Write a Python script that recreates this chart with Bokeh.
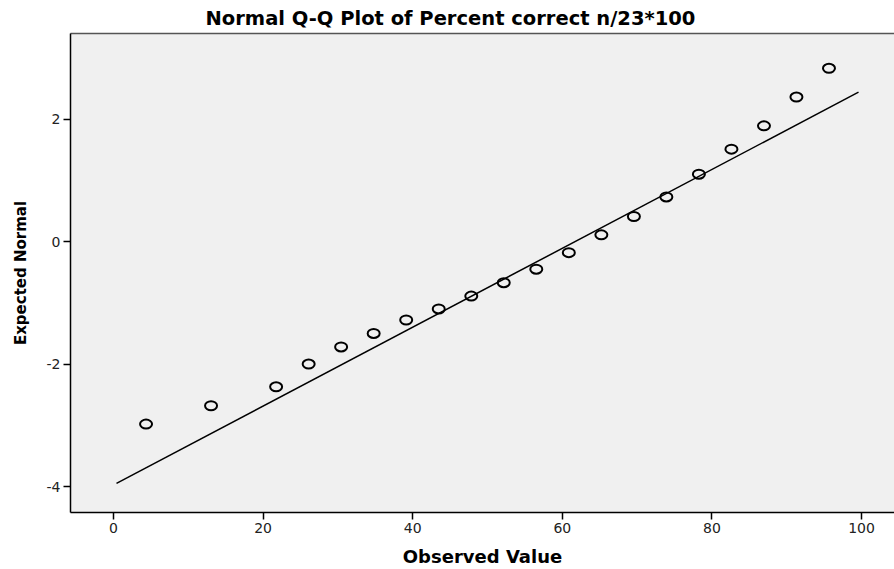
from bokeh.plotting import figure
from bokeh.models import Range1d, FixedTicker, LinearAxis
from bokeh.embed import file_html
from bokeh.resources import INLINE

# Observed values (percent correct n/23*100)
observed = [4.35, 13.04, 21.74, 26.09, 30.43, 34.78, 39.13, 43.48, 47.83, 52.17,
            56.52, 60.87, 65.22, 69.57, 73.91, 78.26, 82.61, 86.96, 91.30, 95.65]
# Expected normal values
expected = [-2.98, -2.68, -2.37, -2.00, -1.72, -1.50, -1.28, -1.10, -0.89, -0.67,
            -0.45, -0.18, 0.11, 0.41, 0.73, 1.10, 1.51, 1.89, 2.36, 2.83]
# Reference line: normal with this mean and sd, drawn over this x span
line_mean = 61.7
line_sd = 15.53
line_x = [0.4, 99.6]
line_y = [(v - line_mean) / line_sd for v in line_x]

x_ticks = [0, 20, 40, 60, 80, 100]
x_tick_labels = ["0", "20", "40", "60", "80", "100"]
y_ticks = [-4, -2, 0, 2]
y_tick_labels = ["-4", "-2", "0", "2"]

p = figure(width=894, height=569, output_backend="svg", toolbar_location=None,
           x_range=Range1d(-5.75, 104.41), y_range=Range1d(-4.423, 3.398),
           title="Normal Q-Q Plot of Percent correct n/23*100",
           min_border_left=70, min_border_right=0, min_border_top=32,
           min_border_bottom=56)

p.background_fill_color = "#f0f0f0"
p.border_fill_color = "white"
p.outline_line_color = None
p.xgrid.visible = False
p.ygrid.visible = False

p.title.text_font = "DejaVu Sans"
p.title.text_font_size = "19.5px"
p.title.text_font_style = "bold"
p.title.text_color = "black"
p.title.align = "left"
p.title.offset = 135
p.title.standoff = 8

# Reference line
p.line(line_x, line_y, line_color="black", line_width=1.5)

# Points (slightly wide circles, as in the stretched reference)
p.ellipse(observed, expected, width=12, height=9, width_units="screen",
          height_units="screen", fill_color=None, line_color="black", line_width=2)

xa = p.xaxis[0]
xa.ticker = FixedTicker(ticks=x_ticks)
xa.major_label_overrides = dict(zip(x_ticks, x_tick_labels))
xa.axis_label = "Observed Value"
xa.axis_label_text_font = "DejaVu Sans"
xa.axis_label_text_font_size = "18px"
xa.axis_label_text_font_style = "bold"
xa.axis_label_text_color = "black"
xa.axis_label_standoff = 10
xa.major_label_text_font = "DejaVu Sans"
xa.major_label_text_font_size = "14px"
xa.major_label_text_color = "#222222"
xa.major_label_standoff = 3
xa.major_tick_out = 7
xa.major_tick_in = 0
xa.minor_tick_out = 0
xa.minor_tick_in = 0
xa.axis_line_color = "black"
xa.axis_line_width = 1.5
xa.major_tick_line_width = 1.5

ya = p.yaxis[0]
ya.ticker = FixedTicker(ticks=y_ticks)
ya.major_label_overrides = dict(zip(y_ticks, y_tick_labels))
ya.axis_label = "Expected Normal"
ya.axis_label_text_font = "DejaVu Sans"
ya.axis_label_text_font_size = "15px"
ya.axis_label_text_font_style = "bold"
ya.axis_label_text_color = "black"
ya.axis_label_standoff = 14
ya.major_label_text_font = "DejaVu Sans"
ya.major_label_text_font_size = "14px"
ya.major_label_text_color = "#222222"
ya.major_label_standoff = 3
ya.major_label_orientation = "horizontal"
ya.major_tick_out = 7
ya.major_tick_in = 0
ya.minor_tick_out = 0
ya.minor_tick_in = 0
ya.axis_line_color = "black"
ya.axis_line_width = 1.5
ya.major_tick_line_width = 1.5

# Top border line
top = LinearAxis(major_tick_line_color=None, minor_tick_line_color=None,
                 major_label_text_font_size="0px", axis_line_color="#555555",
                 axis_line_width=1.5, ticker=FixedTicker(ticks=[]))
p.add_layout(top, "above")

open("out.html", "w").write(file_html(p, INLINE))
